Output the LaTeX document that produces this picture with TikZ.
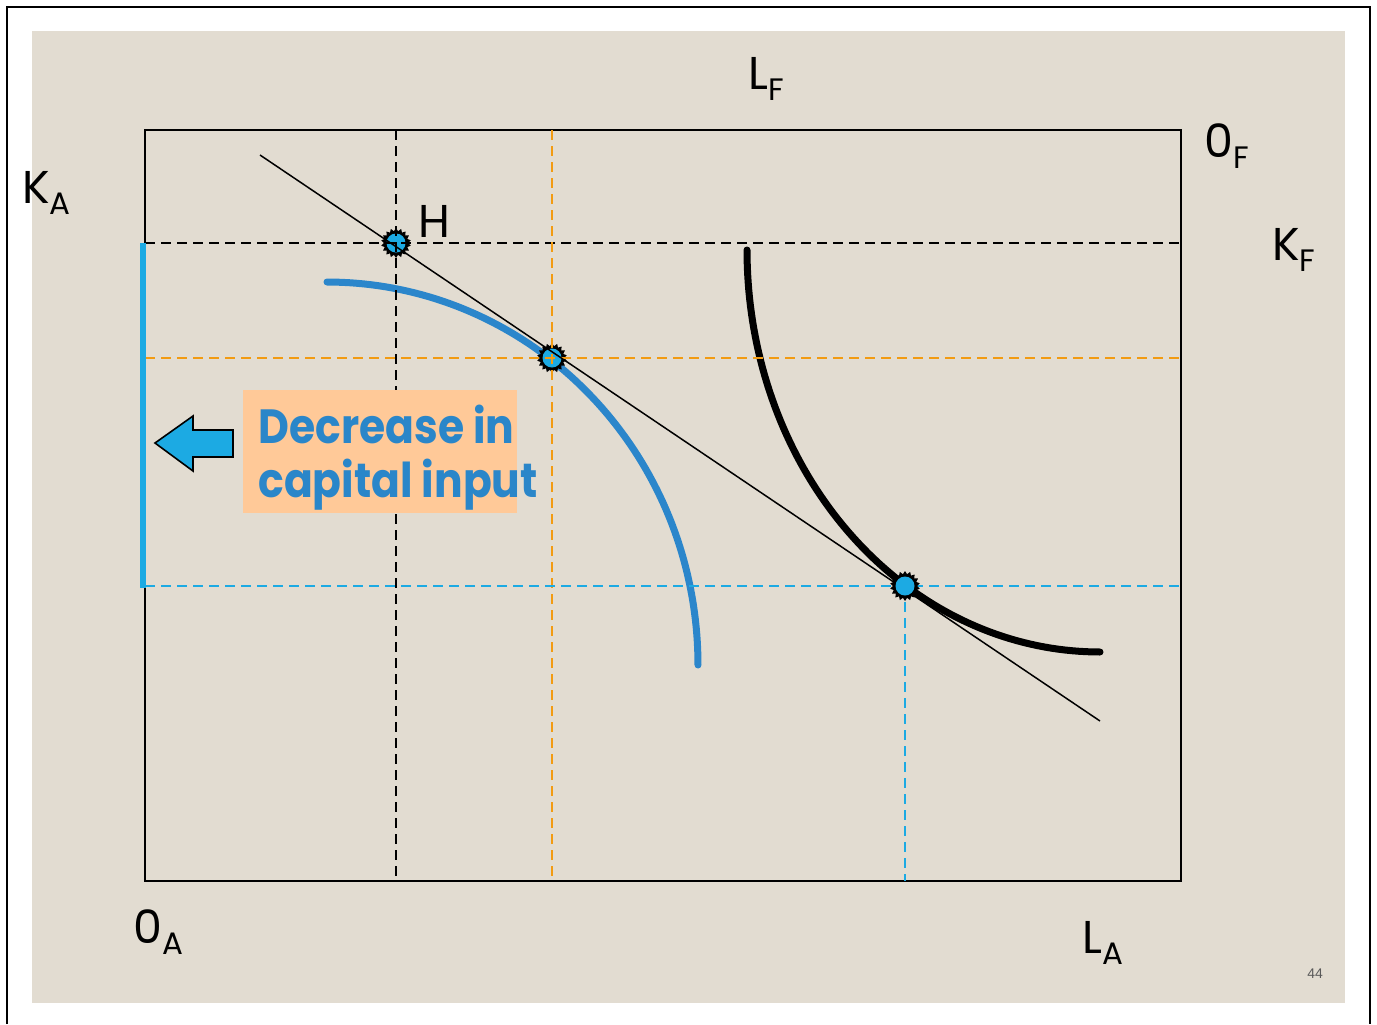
\documentclass[tikz,border=0pt]{standalone}
\usepackage{fontspec}
\setmainfont{Poppins}
\newfontfamily\numfont{Liberation Sans}
\usetikzlibrary{shapes.geometric}
\definecolor{bg}{HTML}{E2DCD1}
\definecolor{bluec}{HTML}{2B86CB}
\definecolor{cyanpt}{HTML}{1CAAE3}
\definecolor{orangec}{HTML}{F29B12}
\definecolor{peach}{HTML}{FFC998}
\definecolor{txtblue}{HTML}{2A86C9}
\newcommand{\lbl}[2]{#1\raisebox{-5.5pt}{\fontsize{15.5}{16}\selectfont #2}}
\newcommand{\narrow}[1]{\scalebox{0.885}[1]{#1}}
\tikzset{
  axlabel/.style={font=\fontsize{23}{26}\selectfont, anchor=base west, inner sep=0},
  burst/.style={star, star points=18, star point ratio=1.25, fill=black, minimum size=15pt, inner sep=0},
  dotc/.style={circle, fill=cyanpt, minimum size=9.5pt, inner sep=0},
  dsh/.style={dash pattern=on 5pt off 3pt, line width=0.9pt},
  curvew/.style={line width=3.5pt, line cap=round},
  boxtxt/.style={font=\fontsize{24}{26}\selectfont\bfseries, text=txtblue, anchor=base west, inner sep=0}
}
\begin{document}
\begin{tikzpicture}[x=0.5pt,y=-0.5pt]
\useasboundingbox (0,0) rectangle (1377,1024);
\fill[white] (0,0) rectangle (1377,1024);
\fill[bg] (32,31) rectangle (1345,1003);
\draw[line width=1.3pt] (7,1024) -- (7,7) -- (1370,7) -- (1370,1024);

% plot box
\draw[line width=1pt] (145,130) rectangle (1181,881);

% curves
\draw[bluec, curvew] plot[domain=90:0, samples=80] ({327+371*cos(\x)},{665-383*sin(\x)});
\draw[black, curvew] plot[domain=0:90, samples=80] ({1100-353*cos(\x)},{250+402*sin(\x)});

% points
\coordinate (H) at (396,243);
\coordinate (P) at (552,358);
\coordinate (Q) at (905,586);
\node[burst] (hb) at (H) {};
\node[dotc] (hd) at (H) {};
\node[burst] (pb) at (P) {};
\node[dotc] (pd) at (P) {};

% dashed guides
\coordinate (hl) at (145,243); \coordinate (hr) at (1181,243);
\coordinate (ht) at (396,130); \coordinate (hbt) at (396,881);
\draw[dsh, black] (hl) -- (hr);
\draw[dsh, black] (ht) -- (hbt);
\coordinate (pl) at (145,358); \coordinate (pr) at (1181,358);
\coordinate (pt) at (552,130); \coordinate (pbt) at (552,881);
\draw[dsh, orangec] (pl) -- (pr);
\draw[dsh, orangec] (pt) -- (pbt);
\coordinate (ql) at (145,586); \coordinate (qr) at (1181,586);
\coordinate (qbt) at (905,881);
\draw[dsh, cyanpt] (ql) -- (qr);
\draw[dsh, cyanpt] (Q) -- (qbt);

% budget line
\coordinate (l1) at (260,155); \coordinate (l2) at (1100,721);
\draw[line width=0.75pt] (l1) -- (l2);

\node[burst] (qb) at (Q) {};
\node[dotc] (qd) at (Q) {};

% text box (covers the dashed guide)
\fill[peach] (243,390) rectangle (517,513);
\node[boxtxt] (t1) at (258,443) {\narrow{Decrease in}};
\node[boxtxt] (t2) at (258,497) {\narrow{capital input}};

% blue bar and arrow
\coordinate (b1) at (143,243); \coordinate (b2) at (143,588);
\draw[cyanpt, line width=3pt] (b1) -- (b2);
\draw[fill=cyanpt, line width=0.8pt, line join=miter] (155,443) -- (193,416) -- (193,430) -- (233,430) -- (233,457) -- (193,457) -- (193,471) -- cycle;

% labels
\node[axlabel] (lf) at (748,89) {\lbl{L}{F}};
\node[axlabel] (ka) at (22,203) {\lbl{K}{A}};
\node[axlabel] (of) at (1204,157) {\lbl{0}{F}};
\node[axlabel] (kf) at (1272,260) {\lbl{K}{F}};
\node[axlabel] (la) at (1082,953) {\lbl{L}{A}};
\node[axlabel] (oa) at (133,943) {\lbl{0}{A}};
\node[axlabel] (hlab) at (418,237) {H};
\node[font=\numfont\fontsize{7}{8}\selectfont, text=black!65, anchor=base west, inner sep=0] (pg) at (1307,978) {44};
\end{tikzpicture}
\end{document}
